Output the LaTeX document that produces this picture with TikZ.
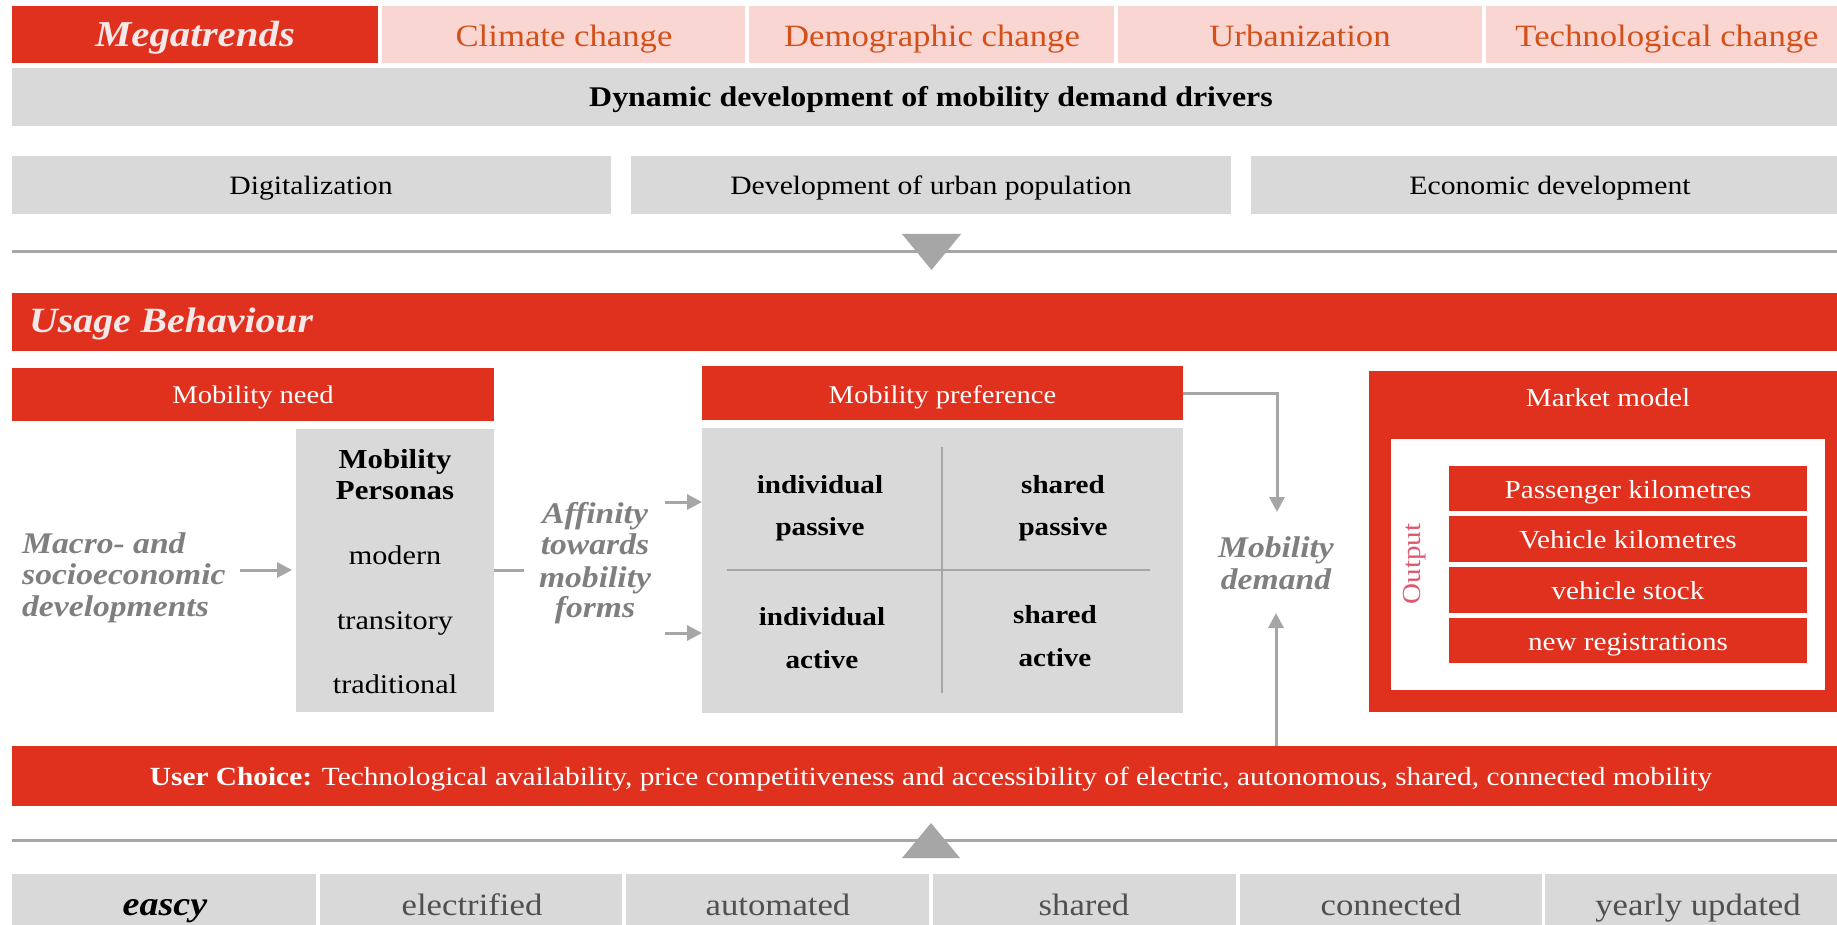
\documentclass[tikz,border=0pt]{standalone}
\usepackage{fontspec}
\setmainfont[FakeStretch=1.12]{Liberation Serif}
\usetikzlibrary{arrows.meta,fit}
\definecolor{pwcred}{RGB}{224,48,30}
\definecolor{pwcpink}{RGB}{249,214,210}
\definecolor{pwcorange}{RGB}{212,80,25}
\definecolor{pwcgray}{RGB}{217,217,217}
\definecolor{labgray}{RGB}{127,127,127}
\definecolor{linegray}{RGB}{166,166,166}
\definecolor{outpink}{RGB}{224,88,112}
\definecolor{titlewhite}{RGB}{245,232,232}
\definecolor{darktext}{RGB}{80,80,80}
\newcommand\myfs[1]{\fontsize{#1}{#1}\selectfont}
\begin{document}
\begin{tikzpicture}[x=1pt,y=-1pt,
  boxbase/.style={inner sep=0pt, outer sep=0pt, draw=none},
  rbox/.style={boxbase, fill=pwcred},
  gbox/.style={boxbase, fill=pwcgray},
  pbox/.style={boxbase, fill=pwcpink},
  wbox/.style={boxbase, fill=white},
  txt/.style={anchor=base, inner sep=0pt},
  trend/.style={txt, font=\myfs{31}, text=pwcorange},
  driver/.style={txt, font=\myfs{26.5}},
  head/.style={txt, font=\myfs{25.5}, text=white},
  persona/.style={txt, font=\myfs{27}},
  quad/.style={txt, font=\myfs{26}\bfseries},
  glabel/.style={txt, font=\myfs{30}\bfseries\itshape, text=labgray},
  outitem/.style={txt, font=\myfs{26}, text=white},
  feat/.style={txt, font=\myfs{31}, text=darktext},
  conn/.style={draw=linegray, line width=3pt},
  arr/.style={conn, -{Triangle[length=15pt,width=15pt]}},
  divider/.style={draw=linegray, line width=2.5pt},
]
\path[use as bounding box, clip] (0,0) rectangle (1837,925);
\fill[white] (0,0) rectangle (1837,925);

% Megatrends row
\node[rbox, fit={(12,6)(378,63)}] (meg) {};
\node[pbox, fit={(382,6)(745,63)}] (clim) {};
\node[pbox, fit={(749,6)(1114,63)}] (demo) {};
\node[pbox, fit={(1118,6)(1482,63)}] (urb) {};
\node[pbox, fit={(1486,6)(1850,63)}] (tech) {};
\node[txt, text=titlewhite, font=\myfs{36.5}\bfseries\itshape] (megT) at (195,47) {Megatrends};
\node[trend] (climT) at (564,47) {Climate change};
\node[trend] (demoT) at (932,47) {Demographic change};
\node[trend] (urbT) at (1300,47) {Urbanization};
\node[trend] (techT) at (1667,47) {Technological change};

% Dynamic development bar
\node[gbox, fit={(12,68)(1850,126)}] (dyn) {};
\node[txt, font=\myfs{28.5}\bfseries] (dynT) at (931,107) {Dynamic development of mobility demand drivers};

% Drivers
\node[gbox, fit={(12,156)(611,214)}] (digit) {};
\node[gbox, fit={(631,156)(1231,214)}] (urbpop) {};
\node[gbox, fit={(1251,156)(1850,214)}] (econ) {};
\node[driver] (digitT) at (311,195) {Digitalization};
\node[driver] (urbpopT) at (931,195) {Development of urban population};
\node[driver] (econT) at (1550,195) {Economic development};

% Divider with down triangle
\draw[conn] (12,252) -- (1837,252);
\fill[linegray] (902,234) -- (961,234) -- (931.5,270) -- cycle;

% Usage behaviour
\node[rbox, fit={(12,293)(1850,351)}] (usage) {};
\node[txt, anchor=base west, text=titlewhite, font=\myfs{35.5}\bfseries\itshape] (usageT) at (29,333) {Usage Behaviour};

% Mobility need
\node[rbox, fit={(12,368)(494,421)}] (need) {};
\node[head] (needT) at (253,403) {Mobility need};
\node[gbox, fit={(296,429)(494,712)}] (persona) {};
\node[persona, font=\myfs{27.5}\bfseries] (pers1) at (395,468) {Mobility};
\node[persona, font=\myfs{27.5}\bfseries] (pers2) at (395,499) {Personas};
\node[persona] (pers3) at (395,564) {modern};
\node[persona] (pers4) at (395,629) {transitory};
\node[persona] (pers5) at (395,693) {traditional};

% Macro label
\node[glabel, anchor=base west] (mac1) at (22,553) {Macro- and};
\node[glabel, anchor=base west] (mac2) at (22,584) {socioeconomic};
\node[glabel, anchor=base west] (mac3) at (22,616) {developments};

% Affinity label
\node[glabel] (aff1T) at (595,523) {Affinity};
\node[glabel] (aff2T) at (595,554) {towards};
\node[glabel] (aff3T) at (595,587) {mobility};
\node[glabel] (aff4T) at (595,617) {forms};

% Mobility preference
\node[rbox, fit={(702,366)(1183,420)}] (pref) {};
\node[head] (prefT) at (942.5,403) {Mobility preference};
\node[gbox, fit={(702,428)(1183,713)}] (quadbox) {};
\draw[divider] (942,447) -- (942,693);
\draw[divider] (727,570) -- (1150,570);
\node[quad] (q1a) at (820,493) {individual};
\node[quad] (q1b) at (820,535) {passive};
\node[quad] (q2a) at (1063,493) {shared};
\node[quad] (q2b) at (1063,535) {passive};
\node[quad] (q3a) at (822,625) {individual};
\node[quad] (q3b) at (822,668) {active};
\node[quad] (q4a) at (1055,623) {shared};
\node[quad] (q4b) at (1055,666) {active};

% Mobility demand
\node[glabel] (md1) at (1276,557) {Mobility};
\node[glabel] (md2) at (1276,589) {demand};

% Market model
\node[rbox, fit={(1369,371)(1850,712)}] (market) {};
\node[head, font=\myfs{26}] (marketT) at (1608,406) {Market model};
\node[wbox, fit={(1391,439)(1825,690)}] (inner) {};
\node[rbox, fit={(1449,466)(1807,511)}] (o1) {};
\node[rbox, fit={(1449,516)(1807,562)}] (o2) {};
\node[rbox, fit={(1449,567)(1807,613)}] (o3) {};
\node[rbox, fit={(1449,618)(1807,663)}] (o4) {};
\node[outitem] (o1T) at (1628,498) {Passenger kilometres};
\node[outitem] (o2T) at (1628,548) {Vehicle kilometres};
\node[outitem] (o3T) at (1628,599) {vehicle stock};
\node[outitem] (o4T) at (1628,650) {new registrations};
\node[inner sep=0pt, rotate=90, font=\myfs{26}, text=outpink] (outT) at (1415,564) {Output};

% User choice
\node[rbox, fit={(12,746)(1850,806)}] (uc) {};
\node[txt, font=\myfs{26.2}, text=white] (ucT) at (931,785) {\textbf{User Choice:} Technological availability, price competitiveness and accessibility of electric, autonomous, shared, connected mobility};

% Divider with up triangle
\draw[conn] (12,840) -- (1837,840);
\fill[linegray] (902,858) -- (960,858) -- (931,823) -- cycle;

% Feature row
\node[gbox, fit={(12,874)(316,940)}] (f1) {};
\node[gbox, fit={(320,874)(622,940)}] (f2) {};
\node[gbox, fit={(626,874)(929,940)}] (f3) {};
\node[gbox, fit={(933,874)(1236,940)}] (f4) {};
\node[gbox, fit={(1240,874)(1542,940)}] (f5) {};
\node[gbox, fit={(1545,874)(1850,940)}] (f6) {};
\node[feat, text=black, font=\myfs{34}\bfseries\itshape] (f1T) at (165,915) {eascy};
\node[feat] (f2T) at (472,915) {electrified};
\node[feat] (f3T) at (778,915) {automated};
\node[feat] (f4T) at (1084,915) {shared};
\node[feat] (f5T) at (1391,915) {connected};
\node[feat] (f6T) at (1698,915) {yearly updated};

% Connectors
\coordinate (macroOut) at (240,570);
\coordinate (persOut) at (524,570);
\coordinate (affA) at (665,502);
\coordinate (affB) at (665,633);
\coordinate (mdTop) at (1277,512);
\coordinate (mdBot) at (1276,613);
\draw[arr, shorten >=4pt] (macroOut) -- (macroOut -| persona.west);
\draw[conn] (persona.east |- persOut) -- (persOut);
\draw[arr] (affA) -- (affA -| quadbox.west);
\draw[arr] (affB) -- (affB -| quadbox.west);
\draw[arr] (pref.east) -| (mdTop);
\draw[arr] (uc.north -| mdBot) -- (mdBot);
\end{tikzpicture}
\end{document}
